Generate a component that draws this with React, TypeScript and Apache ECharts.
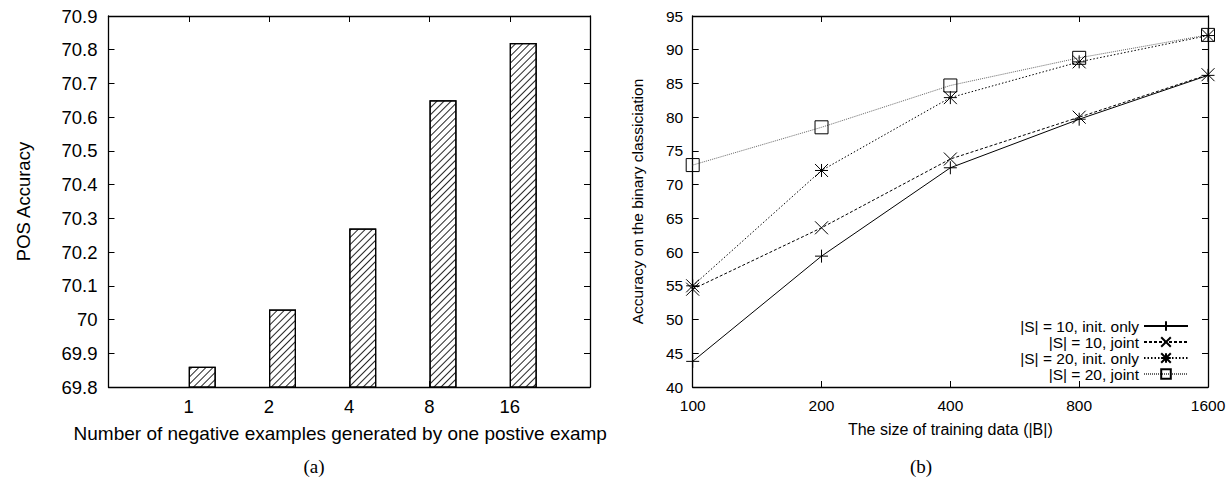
import React, { useEffect, useRef } from 'react';
import * as echarts from 'echarts';

// ---- Panel (a): POS accuracy vs. number of negative examples ----
const negCategories = ['1', '2', '4', '8', '16'];
const posAccuracy = [69.86, 70.03, 70.27, 70.65, 70.82];
const posAxisMin = 69.8;
const posAxisMax = 70.9;
const posAxisStep = 0.1;

// ---- Panel (b): accuracy vs. training data size ----
const trainSizes = ['100', '200', '400', '800', '1600'];
const seriesNames = [
  '|S| = 10, init. only',
  '|S| = 10, joint',
  '|S| = 20, init. only',
  '|S| = 20, joint',
];
const s10Init = [43.8, 59.4, 72.5, 79.7, 86.2];
const s10Joint = [54.5, 63.6, 73.8, 80.0, 86.3];
const s20Init = [55.0, 72.1, 82.9, 88.2, 92.1];
const s20Joint = [72.9, 78.5, 84.7, 88.8, 92.2];
const accAxisMin = 40;
const accAxisMax = 95;
const accAxisStep = 5;

const SANS = '"Liberation Sans", Arial, Helvetica, sans-serif';
const SERIF = '"Liberation Serif", "DejaVu Serif", serif';

const PLUS = 'path://M0,-1L0,1M-1,0L1,0';
const CROSS = 'path://M-1,-1L1,1M-1,1L1,-1';
const STAR = 'path://M0,-1L0,1M-1,0L1,0M-1,-1L1,1M-1,1L1,-1';
const SQUARE = 'path://M-1,-1L1,-1L1,1L-1,1Z';

export default function App() {
  const ref = useRef<HTMLDivElement>(null);

  useEffect(() => {
    if (!ref.current) return;
    const chart = echarts.init(ref.current, undefined, { renderer: 'svg' });

    const axisLine = { show: true, lineStyle: { color: '#000', width: 1.3 } };
    const tickIn = { show: true, inside: true, length: 6, lineStyle: { color: '#000', width: 1 } };

    const leftCats = ['', ...negCategories, ''];
    const barData: (number | string)[] = ['-', ...posAccuracy, '-'];
    const emptyData: string[] = leftCats.map(() => '-');

    const lineSeries = (name: string, data: number[], symbol: string, dash: any, lineColor: string) => ({
      name,
      type: 'line',
      xAxisIndex: 2,
      yAxisIndex: 2,
      data,
      symbol,
      symbolSize: 13,
      showAllSymbol: true,
      lineStyle: { color: lineColor, width: 1, type: dash },
      itemStyle: { color: 'rgba(0,0,0,0)', borderColor: '#000', borderWidth: 1 },
      z: 3,
    });

    const option: any = {
      animation: false,
      backgroundColor: '#fff',
      textStyle: { fontFamily: SANS, color: '#000' },
      grid: [
        { left: 108.5, top: 16, width: 481.5, height: 371 },
        { left: 692.7, top: 16, width: 515.3, height: 371 },
      ],
      xAxis: [
        {
          type: 'category', gridIndex: 0, position: 'bottom', data: leftCats, boundaryGap: false,
          axisLine, axisTick: { ...tickIn, interval: 0 },
          axisLabel: { interval: 0, fontSize: 18.5, margin: 10, color: '#000', fontFamily: SANS },
          name: 'Number of negative examples generated by one postive examp',
          nameLocation: 'middle', nameGap: 37,
          nameTextStyle: { fontSize: 19, color: '#000', fontFamily: SANS, padding: [0, 18, 0, 0] },
        },
        {
          type: 'category', gridIndex: 0, position: 'top', data: leftCats, boundaryGap: false,
          axisLine, axisTick: { ...tickIn, interval: 0 }, axisLabel: { show: false },
        },
        {
          type: 'category', gridIndex: 1, position: 'bottom', data: trainSizes, boundaryGap: false,
          axisLine, axisTick: { ...tickIn, interval: 0 },
          axisLabel: { interval: 0, fontSize: 15.5, margin: 10, color: '#000', fontFamily: SANS },
          name: 'The size of training data (|B|)',
          nameLocation: 'middle', nameGap: 34,
          nameTextStyle: { fontSize: 16, color: '#000', fontFamily: SANS },
        },
        {
          type: 'category', gridIndex: 1, position: 'top', data: trainSizes, boundaryGap: false,
          axisLine, axisTick: { ...tickIn, interval: 0 }, axisLabel: { show: false },
        },
      ],
      yAxis: [
        {
          type: 'value', gridIndex: 0, position: 'left',
          min: posAxisMin, max: posAxisMax, interval: posAxisStep,
          axisLine, axisTick: tickIn, splitLine: { show: false },
          axisLabel: { fontSize: 18.5, margin: 11, color: '#000', fontFamily: SANS },
          name: 'POS Accuracy', nameLocation: 'middle', nameGap: 76,
          nameTextStyle: { fontSize: 18.5, color: '#000', fontFamily: SANS },
        },
        {
          type: 'value', gridIndex: 0, position: 'right',
          min: posAxisMin, max: posAxisMax, interval: posAxisStep,
          axisLine, axisTick: tickIn, splitLine: { show: false }, axisLabel: { show: false },
        },
        {
          type: 'value', gridIndex: 1, position: 'left',
          min: accAxisMin, max: accAxisMax, interval: accAxisStep,
          axisLine, axisTick: tickIn, splitLine: { show: false },
          axisLabel: { fontSize: 15.5, margin: 9.5, color: '#000', fontFamily: SANS },
          name: 'Accuracy on the binary classiciation', nameLocation: 'middle', nameGap: 47,
          nameTextStyle: { fontSize: 15.5, color: '#000', fontFamily: SANS },
        },
        {
          type: 'value', gridIndex: 1, position: 'right',
          min: accAxisMin, max: accAxisMax, interval: accAxisStep,
          axisLine, axisTick: tickIn, splitLine: { show: false }, axisLabel: { show: false },
        },
      ],
      legend: {
        data: seriesNames,
        orient: 'vertical',
        right: 40,
        bottom: 97,
        align: 'right',
        padding: 0,
        itemWidth: 44,
        itemHeight: 12,
        itemGap: 0,
        selectedMode: false,
        textStyle: { fontSize: 15.5, lineHeight: 14, color: '#000', fontFamily: SANS },
      },
      series: [
        {
          name: 'offset', type: 'bar', xAxisIndex: 0, yAxisIndex: 0,
          data: emptyData, barWidth: 27, barGap: '0%',
        },
        {
          name: 'POS Accuracy', type: 'bar', xAxisIndex: 0, yAxisIndex: 0,
          data: barData, barWidth: 27, barGap: '0%',
          itemStyle: {
            color: '#fff', borderColor: '#000', borderWidth: 1.2,
            decal: {
              symbol: 'rect', symbolSize: 1, color: 'rgba(0,0,0,0.85)',
              dashArrayX: [1, 0], dashArrayY: [1, 3.6], rotation: -Math.PI / 4,
            },
          },
        },
        lineSeries(seriesNames[0], s10Init, PLUS, 'solid', '#000'),
        lineSeries(seriesNames[1], s10Joint, CROSS, [3, 2], '#000'),
        lineSeries(seriesNames[2], s20Init, STAR, [1.5, 2], '#000'),
        lineSeries(seriesNames[3], s20Joint, SQUARE, [1, 1], '#666'),
      ],
      graphic: [
        {
          type: 'text', x: 314, y: 466,
          style: { text: '(a)', font: '19px ' + SERIF, fill: '#000', align: 'center', verticalAlign: 'middle' },
        },
        {
          type: 'text', x: 921, y: 466,
          style: { text: '(b)', font: '19px ' + SERIF, fill: '#000', align: 'center', verticalAlign: 'middle' },
        },
      ],
    };

    chart.setOption(option);
    return () => chart.dispose();
  }, []);

  return (
    <div
      ref={ref}
      style={{ position: 'fixed', left: 0, top: 0, width: 1229, height: 479, background: '#fff' }}
    />
  );
}
